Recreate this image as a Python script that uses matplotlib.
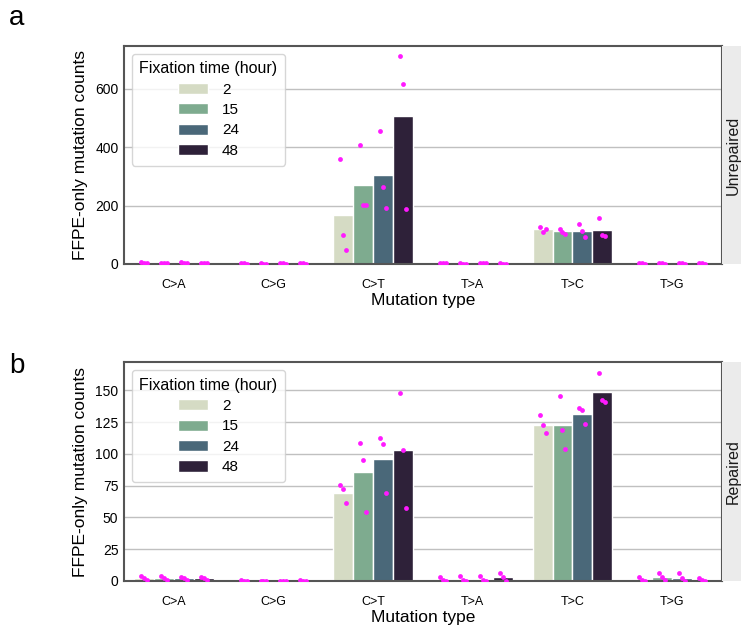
import numpy as np
import matplotlib
matplotlib.use("Agg")
import matplotlib.pyplot as plt
from matplotlib.patches import Patch

plt.rcParams['font.family'] = ['Liberation Sans', 'DejaVu Sans']

# data: replicate counts per [mutation type][fixation time]
mutation_types = ["C>A", "C>G", "C>T", "T>A", "T>C", "T>G"]
hours = ["2", "15", "24", "48"]
colors = ["#d5dbc4", "#7eab8f", "#4a6879", "#2e2139"]

unrepaired_pts = [
    [[6, 4, 3], [5, 4, 3], [6, 4, 3], [3, 2, 2]],
    [[2, 2, 1], [2, 1, 1], [2, 2, 1], [2, 2, 1]],
    [[359, 98, 49], [407, 202, 202], [455, 263, 193], [712, 617, 188]],
    [[4, 3, 2], [2, 1, 1], [4, 3, 2], [2, 1, 1]],
    [[127, 111, 119], [121, 110, 104], [136, 113, 94], [157, 98, 97]],
    [[2, 2, 1], [3, 2, 1], [4, 2, 1], [3, 2, 1]],
]
repaired_pts = [
    [[4, 2, 1], [4, 2, 1], [3, 2, 1], [3, 2, 1]],
    [[1, 0, 0], [0, 0, 0], [0, 0, 0], [1, 0, 0]],
    [[75.3, 72.2, 61.1], [108.5, 95.3, 54.2], [112.4, 107.4, 69.2], [147.7, 103.4, 57.1]],
    [[3, 1, 0], [4, 1, 0], [4, 1, 0], [6, 3, 0]],
    [[130.5, 122.4, 116.3], [145.5, 118.4, 104.2], [135.8, 134.5, 123.2], [163.7, 142.6, 140.8]],
    [[3, 1, 0], [6, 3, 1], [6, 2, 0], [2, 1, 0]],
]

panels = [("a", "Unrepaired", unrepaired_pts, 747, [0, 200, 400, 600], 0.971),
          ("b", "Repaired", repaired_pts, 172, [0, 25, 50, 75, 100, 125, 150], 0.421)]

fig = plt.figure(figsize=(7.41, 6.32), dpi=100)
axes_pos = [[0.1673, 0.5823, 0.807, 0.345], [0.1673, 0.0807, 0.807, 0.346]]

bar_w = 0.2
jitter = [-0.03, 0.0, 0.03]
spine_col = "#555555"

for (letter, strip, pts, ymax, yticks, ly), pos in zip(panels, axes_pos):
    ax = fig.add_axes(pos)
    x = np.arange(len(mutation_types))
    for j, h in enumerate(hours):
        offs = (j - 1.5) * bar_w
        means = [np.mean(pts[i][j]) for i in range(len(mutation_types))]
        ax.bar(x + offs, means, width=bar_w, color=colors[j], edgecolor="white",
               linewidth=1, zorder=2)
        for i in range(len(mutation_types)):
            ax.scatter(x[i] + offs + np.array(jitter), pts[i][j], s=12,
                       color="#ff1aff", zorder=3, linewidths=0)
    ax.set_xlim(-0.5, 5.5)
    ax.set_ylim(0, ymax)
    ax.set_yticks(yticks)
    ax.set_xticks(x)
    ax.set_xticklabels(mutation_types, fontsize=9)
    ax.tick_params(axis="y", labelsize=10, length=0, pad=4)
    ax.tick_params(axis="x", length=0, pad=11)
    ax.yaxis.grid(True, color="#c0c0c0", linewidth=1, zorder=0)
    ax.set_axisbelow(True)
    for s in ax.spines.values():
        s.set_color(spine_col)
        s.set_linewidth(1.5)
    ax.set_xlabel("Mutation type", fontsize=12.5, labelpad=1)
    ax.set_ylabel("FFPE-only mutation counts", fontsize=12.5, labelpad=5)

    handles = [Patch(facecolor=c, edgecolor="white", label=h) for c, h in zip(colors, hours)]
    leg = ax.legend(handles=handles, title="Fixation time (hour)", loc="upper left",
                    fontsize=11, title_fontsize=11.5, frameon=True, handlelength=2.0,
                    handleheight=0.75, labelspacing=0.42, borderpad=0.5,
                    handletextpad=0.9, bbox_to_anchor=(0.0, 1.0), alignment="center")
    leg.get_frame().set_edgecolor("#cccccc")

    # strip on the right
    strip_ax = fig.add_axes([pos[0] + pos[2], pos[1], 1 - (pos[0] + pos[2]), pos[3]])
    strip_ax.set_facecolor("#ebebeb")
    strip_ax.set_xticks([])
    strip_ax.set_yticks([])
    for s in strip_ax.spines.values():
        s.set_visible(False)
    strip_ax.text(0.6, 0.5, strip, rotation=90, ha="center", va="center",
                  fontsize=11.5, transform=strip_ax.transAxes, color="#1a1a1a")

    fig.text(0.012, ly, letter, fontsize=20, va="center", ha="left")

fig.savefig("out.png", dpi=100)
